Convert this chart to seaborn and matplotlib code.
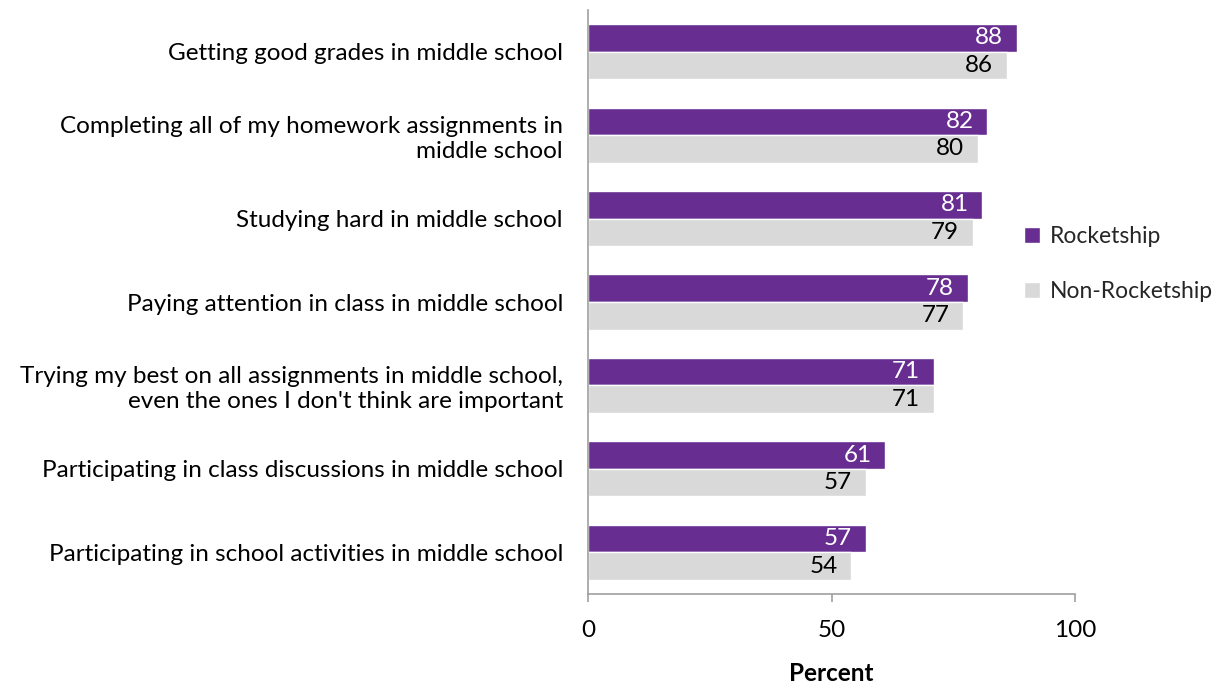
import matplotlib
matplotlib.use("Agg")
import matplotlib.pyplot as plt
import seaborn as sns
import pandas as pd

categories = [
    "Getting good grades in middle school",
    "Completing all of my homework assignments in\nmiddle school",
    "Studying hard in middle school",
    "Paying attention in class in middle school",
    "Trying my best on all assignments in middle school,\neven the ones I don't think are important",
    "Participating in class discussions in middle school",
    "Participating in school activities in middle school",
]
rocketship = [88, 82, 81, 78, 71, 61, 57]
non_rocketship = [86, 80, 79, 77, 71, 57, 54]
groups = ["Rocketship", "Non-Rocketship"]
x_ticks = [0, 50, 100]

df = pd.DataFrame({
    "category": categories * 2,
    "group": [groups[0]] * len(categories) + [groups[1]] * len(categories),
    "value": rocketship + non_rocketship,
})

sns.set_theme(style="white")
plt.rcParams["font.family"] = ["Lato", "DejaVu Sans"]

purple = "#672D91"
gray = "#D9D9D9"
axis_gray = "#A0A0A0"
fs = 17.5

fig = plt.figure(figsize=(12.23, 6.83), dpi=100)
ax = fig.add_axes([588 / 1223, 1 - 594 / 683, (1075 - 588) / 1223, (594 - 10) / 683])

sns.barplot(
    data=df, y="category", x="value", hue="group", orient="h",
    palette=[purple, gray], hue_order=groups, order=categories,
    width=0.66, gap=0, saturation=1, ax=ax, legend=True,
)

ax.set_xlim(0, 100)
ax.set_ylim(len(categories) - 0.5, -0.5)
ax.set_xticks(x_ticks)
ax.set_xticklabels([str(t) for t in x_ticks], fontsize=fs, color="black")
ax.tick_params(axis="x", which="major", length=6, width=1.2, color=axis_gray,
               direction="out", pad=13, bottom=True)
ax.tick_params(axis="y", length=0, pad=18, labelsize=fs, labelcolor="black")
for lbl in ax.get_yticklabels():
    lbl.set_horizontalalignment("right")
    lbl.set_multialignment("right")

ax.set_ylabel("")
ax.set_xlabel("Percent", fontsize=fs, fontweight="bold", labelpad=15, color="black")

for side in ["top", "right"]:
    ax.spines[side].set_visible(False)
for side in ["left", "bottom"]:
    ax.spines[side].set_visible(True)
    ax.spines[side].set_color(axis_gray)
    ax.spines[side].set_linewidth(1.2)

for container, color in zip(ax.containers, ["white", "black"]):
    ax.bar_label(container, labels=[f"{v:.0f}" for v in container.datavalues],
                 padding=-30, color=color, fontsize=fs)

handles, labels = ax.get_legend_handles_labels()
ax.get_legend().remove()
fig.legend(handles, labels, loc="center left", bbox_to_anchor=(1003 / 1223, 1 - 264 / 683),
           frameon=False, fontsize=16.5, handlelength=0.7, handleheight=0.7,
           handletextpad=0.45, labelspacing=1.5)

fig.savefig("out.png", dpi=100)
